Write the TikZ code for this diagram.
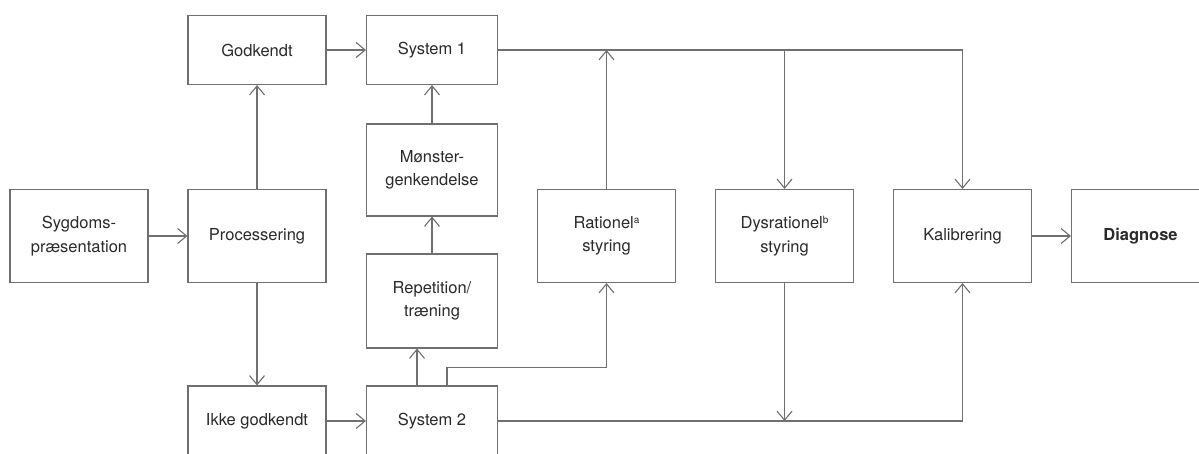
\documentclass[tikz,border=0pt]{standalone}
\usepackage{fontspec}
\setmainfont{TeX Gyre Heros}
\usetikzlibrary{arrows.meta}
\definecolor{ln}{HTML}{707070}
\definecolor{tx}{HTML}{2A2A2A}
\newcommand{\supx}[1]{\raisebox{0.6ex}{\fontsize{10}{10}\selectfont #1}}
\begin{document}
\begin{tikzpicture}[x=1pt,y=-1pt,
 box/.style={draw=ln, line width=1.1pt, minimum width=138pt, align=center, text=tx,
   font=\fontsize{16.5}{23.5}\selectfont, inner sep=0pt},
 tall/.style={box, minimum height=93pt},
 short/.style={box, minimum height=69pt},
 narrow/.style={minimum width=131pt},
 conn/.style={draw=ln, line width=1.1pt, -{Straight Barb[length=9pt,width=15pt,line width=1.1pt]}}]
\useasboundingbox (0,0) rectangle (1199,454);
\clip (0,0) rectangle (1199,454);
\fill[white] (0,0) rectangle (1199,454);

\node[tall] (sym) at (79,236) {Sygdoms-\\præsentation};
\node[tall] (proc) at (257,236) {Processering};
\node[short] (god) at (257,50) {Godkendt};
\node[box, minimum height=70pt] (ikke) at (257,421) {Ikke godkendt};
\node[short, narrow] (s1) at (432,50) {System 1};
\node[tall, narrow, minimum height=92pt] (mon) at (432,170) {Mønster-\\genkendelse};
\node[tall, narrow, minimum height=94pt] (rep) at (432,301) {Repetition/\\træning};
\node[box, narrow, minimum height=70pt] (s2) at (432,421) {System 2};
\node[tall] (rat) at (606.5,236) {Rationel\supx{a}\\styring};
\node[tall] (dys) at (784.5,236) {Dysrationel\supx{b}\\styring};
\node[tall] (kal) at (962.5,236) {Kalibrering};
\node[tall, font=\fontsize{16.5}{23.5}\selectfont\bfseries] (dia) at (1140.5,236) {Diagnose};

\draw[conn] (sym) -- (proc);
\draw[conn] (proc) -- (god);
\draw[conn] (proc) -- (ikke);
\draw[conn] (god) -- (s1);
\draw[conn] (ikke) -- (s2);
\draw[conn] (mon) -- (s1);
\draw[conn] (rep) -- (mon);
\draw[conn] ([xshift=-15pt]s2.north) -- ([xshift=-15pt]rep.south);
\draw[conn] ([xshift=15pt]s2.north) -- ++(0,-18) -| (rat.south);
\draw[conn] (s1.east) -| (kal.north);
\draw[conn] (dys.north |- s1.east) -- (dys.north);
\draw[conn] (rat.north) -- (rat.north |- s1.east);
\draw[conn] (s2.east) -| (kal.south);
\draw[conn] (dys.south) -- (dys.south |- s2.east);
\draw[conn] (kal) -- (dia);
\end{tikzpicture}
\end{document}
